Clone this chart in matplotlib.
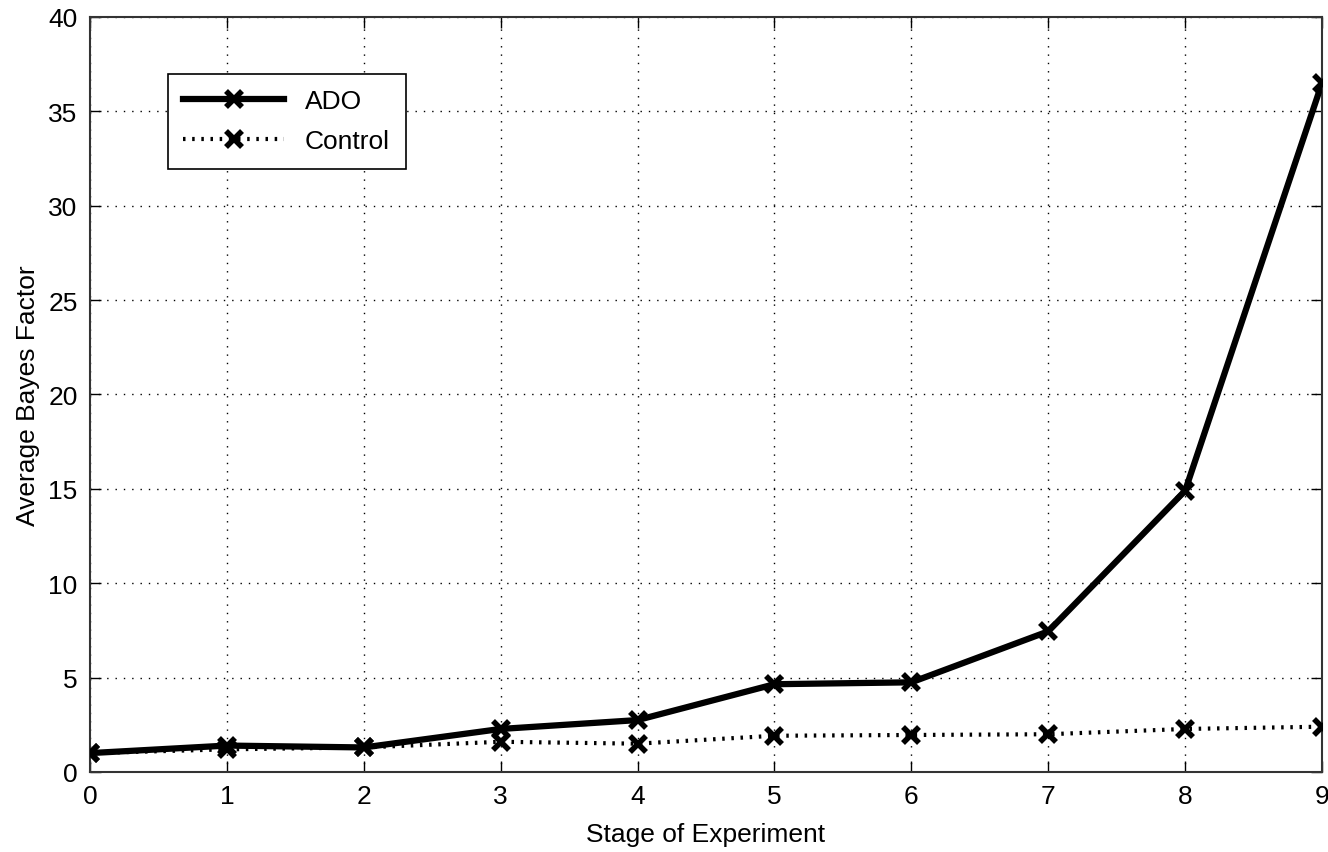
import matplotlib
matplotlib.use("Agg")
import matplotlib.pyplot as plt
import numpy as np

plt.rcParams['font.family'] = ['Liberation Sans', 'DejaVu Sans']

# datos
etapas = [0, 1, 2, 3, 4, 5, 6, 7, 8, 9]
ado = [1.0, 1.4, 1.3, 2.28, 2.75, 4.65, 4.75, 7.45, 14.9, 36.5]
control = [1.0, 1.2, 1.3, 1.6, 1.5, 1.92, 1.96, 2.0, 2.28, 2.4]

fig = plt.figure(figsize=(13.28, 8.53), dpi=100)
ax = fig.add_axes([0.0678, 0.0938, 0.9277, 0.8852])

ax.plot(etapas, control, color="black", linestyle=(0, (0.6, 1.6)), linewidth=3,
        marker="x", markersize=12, markeredgewidth=4, label="Control", zorder=3)
ax.plot(etapas, ado, color="black", linestyle="-", linewidth=4.5,
        marker="x", markersize=12, markeredgewidth=4, label="ADO", zorder=4)

ax.set_xlim(0, 9)
ax.set_ylim(0, 40)
ax.set_xticks(range(0, 10))
ax.set_yticks(range(0, 41, 5))
ax.grid(True, color="black", linestyle=(0, (1, 5)), linewidth=1)
ax.tick_params(direction="in", top=True, right=True, length=8, width=1,
               labelsize=19, pad=9)
for s in ax.spines.values():
    s.set_linewidth(1.5)
    s.set_color("#333333")

ax.set_xlabel("Stage of Experiment", fontsize=19, labelpad=10)
ax.set_ylabel("Average Bayes Factor", fontsize=19, labelpad=6)

h, l = ax.get_legend_handles_labels()
leg = ax.legend([h[1], h[0]], [l[1], l[0]], loc="upper left",
                bbox_to_anchor=(0.063, 0.925), borderaxespad=0, fancybox=False,
                edgecolor="black", fontsize=19, handlelength=3.8,
                borderpad=0.6, labelspacing=0.6, framealpha=1)
leg.get_frame().set_linewidth(1.2)

fig.savefig("out.png", dpi=100)
